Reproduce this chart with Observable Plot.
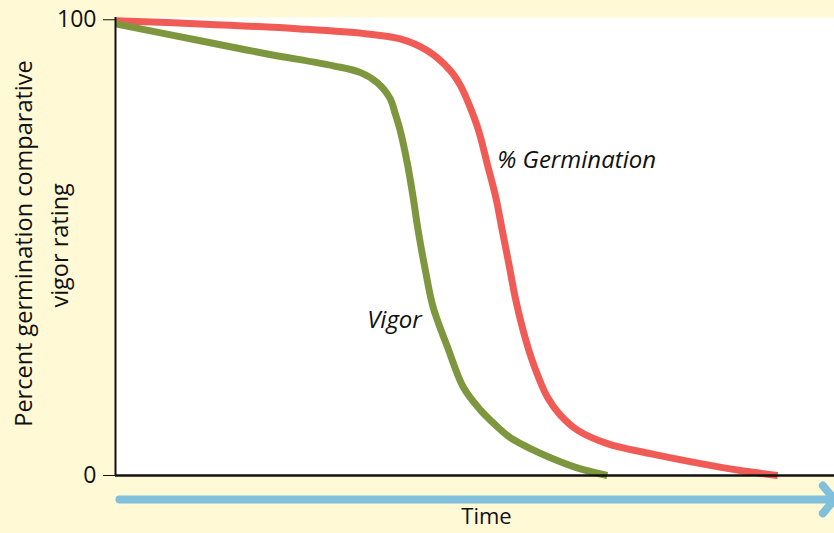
<!DOCTYPE html>
<html><head><meta charset="utf-8">
<script src="https://cdn.jsdelivr.net/npm/d3@7"></script>
<script src="https://cdn.jsdelivr.net/npm/@observablehq/plot@0.6"></script>
<style>
html,body{margin:0;padding:0;background:#fff9d6;}
</style></head><body><div id="chart"></div>
<script>
const germTime  = [0, 11.8, 25.7, 35.0, 39.6, 43.4, 46.6, 48.0, 49.4, 50.5, 51.7, 52.9, 53.8, 54.7, 55.6, 56.7, 58.1, 60.1, 61.9, 64.3, 68.4, 74.4, 81.4, 86.9, 92.1];
const germValue = [99.8, 99.1, 98.0, 96.9, 95.8, 93.2, 88.8, 85.5, 80.5, 75.7, 68.4, 61.0, 53.7, 46.5, 39.0, 31.8, 24.6, 17.1, 13.2, 9.9, 7.0, 4.8, 2.6, 1.1, 0];
const vigorTime  = [0, 11.8, 21.1, 30.3, 34.1, 36.4, 38.2, 38.9, 39.6, 40.6, 41.4, 42.1, 43.1, 44.2, 46.2, 48.4, 50.8, 52.9, 54.9, 57.7, 60.5, 64.0, 68.4];
const vigorValue = [99.1, 95.4, 92.5, 89.9, 88.4, 86.2, 82.7, 79.4, 75.7, 68.4, 61.0, 53.7, 45.0, 36.8, 28.1, 19.3, 14.3, 11.0, 8.3, 5.9, 3.9, 1.8, 0];
const yTicks = [0, 100];
const yLabelLines = ["Percent germination comparative", "vigor rating"];
const seriesLabels = ["% Germination", "Vigor"];
const xLabel = "Time";

const germ = germTime.map((t, i) => ({t, v: germValue[i]}));
const vigor = vigorTime.map((t, i) => ({t, v: vigorValue[i]}));

const chart = Plot.plot({
  width: 834, height: 533,
  marginLeft: 115, marginRight: 0, marginTop: 17, marginBottom: 58,
  style: {background: "#fff9d6", fontFamily: "'Open Sans', sans-serif", fontSize: "23px", color: "#111"},
  x: {domain: [0, 100], axis: null},
  y: {domain: [0, 100.5], ticks: yTicks, tickSize: 12, tickPadding: 7, tickFormat: d => String(d), label: null},
  marks: [
    Plot.frame({fill: "white", stroke: null}),
    Plot.line(germ, {x: "t", y: "v", stroke: "#f05b56", strokeWidth: 7, curve: "catmull-rom", strokeLinecap: "butt"}),
    Plot.line(vigor, {x: "t", y: "v", stroke: "#7e973f", strokeWidth: 7, curve: "catmull-rom", strokeLinecap: "butt"}),
    Plot.ruleX([0], {stroke: "#111", strokeWidth: 2}),
    Plot.ruleY([0], {stroke: "#111", strokeWidth: 2.5}),
    Plot.arrow([{a: 0.55, b: 100, y: -5.26}], {x1: "a", x2: "b", y1: "y", y2: "y", stroke: "#80c0dc", strokeWidth: 8, headLength: 3.4, headAngle: 100}),
    Plot.text([xLabel], {x: 51.6, y: -9.2, text: d => d, fontSize: 22, fill: "#111"}),
    Plot.text([yLabelLines[0]], {x: -12.7, y: 50.9, text: d => d, rotate: -90, fontSize: 23.5, fill: "#111"}),
    Plot.text([yLabelLines[1]], {x: -7.7, y: 50.5, text: d => d, rotate: -90, fontSize: 23.5, fill: "#111"}),
    Plot.text([seriesLabels[0]], {x: 53.1, y: 69.1, text: d => d, textAnchor: "start", fontSize: 24, fontStyle: "italic", fill: "#111"}),
    Plot.text([seriesLabels[1]], {x: 35.0, y: 34.0, text: d => d, textAnchor: "start", fontSize: 24, fontStyle: "italic", fill: "#111"})
  ]
});
document.getElementById("chart").append(chart);
</script></body></html>
